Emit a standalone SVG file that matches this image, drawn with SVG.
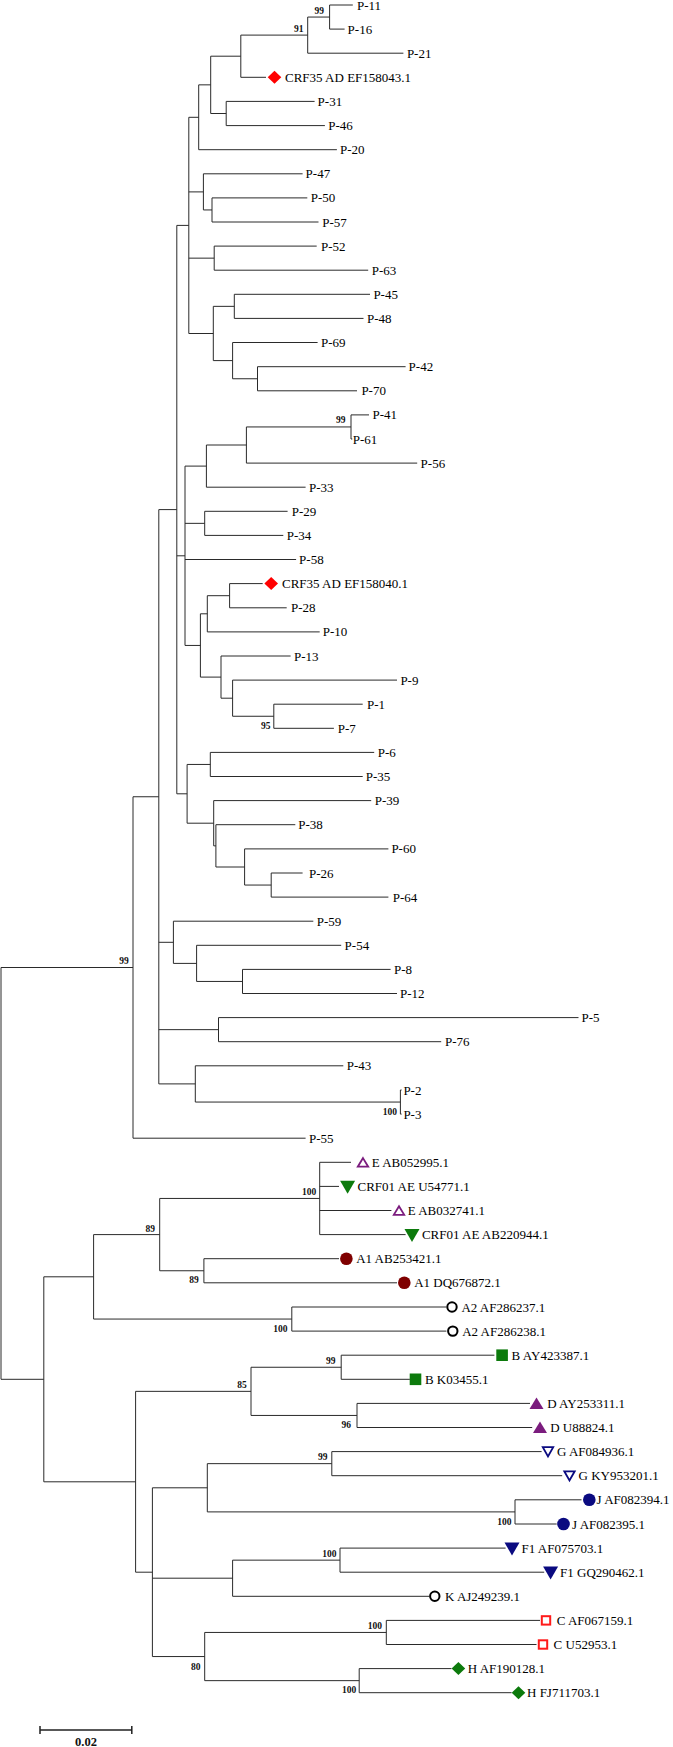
<svg xmlns="http://www.w3.org/2000/svg" xmlns:xlink="http://www.w3.org/1999/xlink" width="673" height="1747" viewBox="0 0 673 1747">
<style>
.lbl{font-family:"Liberation Serif","Times New Roman",serif;font-size:13px;fill:#000}
.bs{font-family:"Liberation Serif","Times New Roman",serif;font-size:9.5px;font-weight:bold;fill:#111;text-anchor:end}
.br{fill:none;stroke:#2a2a2a;stroke-width:1}
.red{fill:#ff0000}
.grn{fill:#0c7a0c}
.pur{fill:#7b1c7e}
.pur-o{fill:#fff;stroke:#7b1c7e;stroke-width:1.8}
.mar{fill:#7f0000}
.nav{fill:#0a0a80}
.nav-o{fill:#fff;stroke:#0a0a80;stroke-width:1.8}
.blk-o{fill:#fff;stroke:#000;stroke-width:2}
.red-o{fill:#fff;stroke:#ff1a1a;stroke-width:2}
</style>
<defs>
<path id="dia" d="M0,-6.5 L6.8,0 L0,6.5 L-6.8,0Z"/>
<path id="triU" d="M0,-6 L7,5.5 L-7,5.5Z"/>
<path id="triUo" d="M0,-4.2 L5.2,4.4 L-5.2,4.4Z"/>
<path id="triD" d="M-7.5,-5.7 L7.5,-5.7 L0,7.3Z"/>
<path id="triDo" d="M-5.2,-4.4 L5.2,-4.4 L0,4.8Z"/>
<circle id="cir" r="6.3"/>
<circle id="ciro" r="4.7"/>
<rect id="sq" x="-5.8" y="-5.8" width="11.6" height="11.6"/>
<rect id="sqo" x="-4.2" y="-4.2" width="8.4" height="8.4"/>
</defs>
<rect width="673" height="1747" fill="#fff"/>
<g id="connectors" class="br">
<path d="M329.6 5V29.1M329.6 5H352.8M329.6 29.1H344.6
M307.7 17.05V53.2M307.7 17.05H329.6M307.7 53.2H403.4
M240.8 35.1V77.3M240.8 35.1H307.7M240.8 77.3H266
M226.2 101.4V125.6M226.2 101.4H314.6M226.2 125.6H324.9
M210.7 56.2V113.5M210.7 56.2H240.8M210.7 113.5H226.2
M198.7 84.85V149.7M198.7 84.85H210.7M198.7 149.7H336.9
M212 197.9V222M212 197.9H307.3M212 222H318.5
M203.4 173.8V209.95M203.4 173.8H302.6M203.4 209.95H212
M214.2 246.1V270.2M214.2 246.1H316.7M214.2 270.2H368.2
M234.3 294.3V318.4M234.3 294.3H370M234.3 318.4H363.5
M257.5 366.7V390.8M257.5 366.7H405.6M257.5 390.8H357
M232.6 342.5V378.75M232.6 342.5H317.6M232.6 378.75H257.5
M213.3 306.35V360.6M213.3 306.35H234.3M213.3 360.6H232.6
M188.8 117.3V333.5M188.8 117.3H198.7M188.8 191.9H203.4M188.8 258.15H214.2M188.8 333.5H213.3
M351 414.9V439M351 414.9H369M351 439H352.3
M246.4 426.95V463.1M246.4 426.95H351M246.4 463.1H417.2
M206.4 445V487.2M206.4 445H246.4M206.4 487.2H305.6
M204.7 511.3V535.4M204.7 511.3H287.6M204.7 535.4H283.3
M229.6 583.6V607.8M229.6 583.6H262.7M229.6 607.8H286.7
M207.3 595.7V631.9M207.3 595.7H229.6M207.3 631.9H319.7
M273.8 704.2V728.3M273.8 704.2H362.7M273.8 728.3H333.9
M232.6 680.1V716.25M232.6 680.1H397M232.6 716.25H273.8
M221 656V698.2M221 656H290.6M221 698.2H232.6
M200.4 613.8V677.1M200.4 613.8H207.3M200.4 677.1H221
M185 466.1V645.45M185 466.1H206.4M185 523.35H204.7M185 559.5H296.1M185 645.45H200.4
M210.3 752.4V776.5M210.3 752.4H374.2M210.3 776.5H362.7
M271.2 873V897.1M271.2 873H302.6M271.2 897.1H388.4
M244.6 848.9V885.05M244.6 848.9H388.4M244.6 885.05H271.2
M215.9 824.7V867M215.9 824.7H295.3M215.9 867H244.6
M213.7 800.6V845.85M213.7 800.6H371.2M213.7 845.85H215.9
M187.1 764.45V823.2M187.1 764.45H210.3M187.1 823.2H213.7
M176.8 225.4V793.8M176.8 225.4H188.8M176.8 555.8H185M176.8 793.8H187.1
M242.5 969.4V993.5M242.5 969.4H390.6M242.5 993.5H397
M196.6 945.3V981.45M196.6 945.3H341.2M196.6 981.45H242.5
M173.4 921.2V963.4M173.4 921.2H313.3M173.4 963.4H196.6
M218.5 1017.6V1041.7M218.5 1017.6H578.5M218.5 1041.7H441.2
M400.4 1090V1114.1M400.4 1090H401.6M400.4 1114.1H401.6
M195.3 1065.8V1102.05M195.3 1065.8H343.3M195.3 1102.05H400.4
M158.8 509.6V1083.9M158.8 509.6H176.8M158.8 942.3H173.4M158.8 1029.65H218.5M158.8 1083.9H195.3
M133 796.75V1138.2M133 796.75H158.8M133 1138.2H305.6
M319.7 1162.3V1234.6M319.7 1162.3H351M319.7 1186.4H339M319.7 1210.5H391.4M319.7 1234.6H405.6
M203.9 1258.7V1282.8M203.9 1258.7H339M203.9 1282.8H397
M159.7 1198.45V1270.75M159.7 1198.45H319.7M159.7 1270.75H203.9
M291.8 1307V1331.1M291.8 1307H446.4M291.8 1331.1H446.4
M93.6 1234.6V1319.05M93.6 1234.6H159.7M93.6 1319.05H291.8
M341.2 1355.2V1379.3M341.2 1355.2H494.4M341.2 1379.3H409.9
M357 1403.4V1427.5M357 1403.4H530M357 1427.5H532.2
M251 1367.25V1415.45M251 1367.25H341.2M251 1415.45H357
M331.8 1451.6V1475.7M331.8 1451.6H541.6M331.8 1475.7H562.2
M515 1499.8V1524M515 1499.8H581.5M515 1524H556.7
M207.3 1463.65V1511.9M207.3 1463.65H331.8M207.3 1511.9H515
M340 1548.1V1572.2M340 1548.1H505.6M340 1572.2H544.2
M232.6 1560.15V1596.3M232.6 1560.15H340M232.6 1596.3H429.2
M386.3 1620.4V1644.5M386.3 1620.4H540M386.3 1644.5H536.5
M359.2 1668.6V1692.7M359.2 1668.6H451.5M359.2 1692.7H511.6
M204.7 1632.45V1680.65M204.7 1632.45H386.3M204.7 1680.65H359.2
M152.4 1487.8V1656.55M152.4 1487.8H207.3M152.4 1578.2H232.6M152.4 1656.55H204.7
M135.6 1391.35V1572.2M135.6 1391.35H251M135.6 1572.2H152.4
M43.8 1276.8V1481.8M43.8 1276.8H93.6M43.8 1481.8H135.6
M1 967.5V1379.3M1 967.5H133M1 1379.3H43.8"/>
</g>
<g id="bootstrap">
<text class="bs" x="324" y="13.5">99</text>
<text class="bs" x="303.4" y="31.6">91</text>
<text class="bs" x="345.5" y="423.4">99</text>
<text class="bs" x="270.4" y="728.7">95</text>
<text class="bs" x="397" y="1114.5">100</text>
<text class="bs" x="128.8" y="964">99</text>
<text class="bs" x="316.3" y="1195">100</text>
<text class="bs" x="198.7" y="1283.3">89</text>
<text class="bs" x="155" y="1231.6">89</text>
<text class="bs" x="287.6" y="1331.6">100</text>
<text class="bs" x="335.6" y="1364.3">99</text>
<text class="bs" x="351" y="1428.3">96</text>
<text class="bs" x="246.8" y="1388.3">85</text>
<text class="bs" x="327.5" y="1460">99</text>
<text class="bs" x="511.6" y="1525">100</text>
<text class="bs" x="336.5" y="1556.6">100</text>
<text class="bs" x="382" y="1629.3">100</text>
<text class="bs" x="356.2" y="1693.3">100</text>
<text class="bs" x="200.4" y="1670">80</text>
</g>
<g id="leaves" class="lbl">
<g id="P-11"><text x="357" y="9.5">P-11</text></g>
<g id="P-16"><text x="347.6" y="33.6">P-16</text></g>
<g id="P-21"><text x="406.9" y="57.7">P-21</text></g>
<g id="CRF35-EF158043"><use xlink:href="#dia" class="red" x="274.5" y="77.3"/><text x="285" y="81.8">CRF35 AD EF158043.1</text></g>
<g id="P-31"><text x="317.6" y="105.9">P-31</text></g>
<g id="P-46"><text x="328.3" y="130.1">P-46</text></g>
<g id="P-20"><text x="340" y="154.2">P-20</text></g>
<g id="P-47"><text x="305.6" y="178.3">P-47</text></g>
<g id="P-50"><text x="310.7" y="202.4">P-50</text></g>
<g id="P-57"><text x="322.3" y="226.5">P-57</text></g>
<g id="P-52"><text x="321" y="250.6">P-52</text></g>
<g id="P-63"><text x="371.7" y="274.7">P-63</text></g>
<g id="P-45"><text x="373.4" y="298.8">P-45</text></g>
<g id="P-48"><text x="367" y="322.9">P-48</text></g>
<g id="P-69"><text x="321" y="347">P-69</text></g>
<g id="P-42"><text x="408.6" y="371.2">P-42</text></g>
<g id="P-70"><text x="361.4" y="395.3">P-70</text></g>
<g id="P-41"><text x="372.5" y="419.4">P-41</text></g>
<g id="P-61"><text x="352.8" y="443.5">P-61</text></g>
<g id="P-56"><text x="420.6" y="467.6">P-56</text></g>
<g id="P-33"><text x="309" y="491.7">P-33</text></g>
<g id="P-29"><text x="291.8" y="515.8">P-29</text></g>
<g id="P-34"><text x="286.7" y="539.9">P-34</text></g>
<g id="P-58"><text x="299.1" y="564">P-58</text></g>
<g id="CRF35-EF158040"><use xlink:href="#dia" class="red" x="271.2" y="583.6"/><text x="282" y="588.1">CRF35 AD EF158040.1</text></g>
<g id="P-28"><text x="291" y="612.3">P-28</text></g>
<g id="P-10"><text x="322.7" y="636.4">P-10</text></g>
<g id="P-13"><text x="294" y="660.5">P-13</text></g>
<g id="P-9"><text x="400.4" y="684.6">P-9</text></g>
<g id="P-1"><text x="367" y="708.7">P-1</text></g>
<g id="P-7"><text x="337.8" y="732.8">P-7</text></g>
<g id="P-6"><text x="377.7" y="756.9">P-6</text></g>
<g id="P-35"><text x="365.7" y="781">P-35</text></g>
<g id="P-39"><text x="374.7" y="805.1">P-39</text></g>
<g id="P-38"><text x="298.3" y="829.2">P-38</text></g>
<g id="P-60"><text x="391.4" y="853.4">P-60</text></g>
<g id="P-26"><text x="309" y="877.5">P-26</text></g>
<g id="P-64"><text x="392.7" y="901.6">P-64</text></g>
<g id="P-59"><text x="316.7" y="925.7">P-59</text></g>
<g id="P-54"><text x="344.6" y="949.8">P-54</text></g>
<g id="P-8"><text x="394" y="973.9">P-8</text></g>
<g id="P-12"><text x="400" y="998">P-12</text></g>
<g id="P-5"><text x="581.5" y="1022.1">P-5</text></g>
<g id="P-76"><text x="445" y="1046.2">P-76</text></g>
<g id="P-43"><text x="346.8" y="1070.3">P-43</text></g>
<g id="P-2"><text x="403.4" y="1094.5">P-2</text></g>
<g id="P-3"><text x="403.4" y="1118.6">P-3</text></g>
<g id="P-55"><text x="309" y="1142.7">P-55</text></g>
<g id="E-AB052995"><use xlink:href="#triUo" class="pur-o" x="363" y="1162.3"/><text x="371.7" y="1166.8">E AB052995.1</text></g>
<g id="CRF01-U54771"><use xlink:href="#triD" class="grn" x="347.6" y="1186.4"/><text x="357.5" y="1190.9">CRF01 AE U54771.1</text></g>
<g id="E-AB032741"><use xlink:href="#triUo" class="pur-o" x="399" y="1210.5"/><text x="407.7" y="1215">E AB032741.1</text></g>
<g id="CRF01-AB220944"><use xlink:href="#triD" class="grn" x="412" y="1234.6"/><text x="421.9" y="1239.1">CRF01 AE AB220944.1</text></g>
<g id="A1-AB253421"><use xlink:href="#cir" class="mar" x="346.4" y="1258.7"/><text x="356.2" y="1263.2">A1 AB253421.1</text></g>
<g id="A1-DQ676872"><use xlink:href="#cir" class="mar" x="404.3" y="1282.8"/><text x="414.2" y="1287.3">A1 DQ676872.1</text></g>
<g id="A2-AF286237"><use xlink:href="#ciro" class="blk-o" x="452" y="1307"/><text x="461.4" y="1311.5">A2 AF286237.1</text></g>
<g id="A2-AF286238"><use xlink:href="#ciro" class="blk-o" x="452.8" y="1331.1"/><text x="462.2" y="1335.6">A2 AF286238.1</text></g>
<g id="B-AY423387"><use xlink:href="#sq" class="grn" x="502.1" y="1355.2"/><text x="511.6" y="1359.7">B AY423387.1</text></g>
<g id="B-K03455"><use xlink:href="#sq" class="grn" x="415.5" y="1379.3"/><text x="424.9" y="1383.8">B K03455.1</text></g>
<g id="D-AY253311"><use xlink:href="#triU" class="pur" x="536.5" y="1403.4"/><text x="547.2" y="1407.9">D AY253311.1</text></g>
<g id="D-U88824"><use xlink:href="#triU" class="pur" x="540" y="1427.5"/><text x="550.2" y="1432">D U88824.1</text></g>
<g id="G-AF084936"><use xlink:href="#triDo" class="nav-o" x="548" y="1451.6"/><text x="557" y="1456.1">G AF084936.1</text></g>
<g id="G-KY953201"><use xlink:href="#triDo" class="nav-o" x="569.5" y="1475.7"/><text x="578.5" y="1480.2">G KY953201.1</text></g>
<g id="J-AF082394"><use xlink:href="#cir" class="nav" x="589.3" y="1499.8"/><text x="596.6" y="1504.3">J AF082394.1</text></g>
<g id="J-AF082395"><use xlink:href="#cir" class="nav" x="563.5" y="1524"/><text x="572.1" y="1528.5">J AF082395.1</text></g>
<g id="F1-AF075703"><use xlink:href="#triD" class="nav" x="512" y="1548.1"/><text x="521.5" y="1552.6">F1 AF075703.1</text></g>
<g id="F1-GQ290462"><use xlink:href="#triD" class="nav" x="550.6" y="1572.2"/><text x="560.1" y="1576.7">F1 GQ290462.1</text></g>
<g id="K-AJ249239"><use xlink:href="#ciro" class="blk-o" x="434.8" y="1596.3"/><text x="445" y="1600.8">K AJ249239.1</text></g>
<g id="C-AF067159"><use xlink:href="#sqo" class="red-o" x="546" y="1620.4"/><text x="556.7" y="1624.9">C AF067159.1</text></g>
<g id="C-U52953"><use xlink:href="#sqo" class="red-o" x="543" y="1644.5"/><text x="553.6" y="1649">C U52953.1</text></g>
<g id="H-AF190128"><use xlink:href="#dia" class="grn" x="458.4" y="1668.6"/><text x="467.8" y="1673.1">H AF190128.1</text></g>
<g id="H-FJ711703"><use xlink:href="#dia" class="grn" x="518.5" y="1692.7"/><text x="527" y="1697.2">H FJ711703.1</text></g>
</g>
<g id="scalebar">
<path d="M40 1730H131.8M40 1726V1734M131.8 1726V1734" fill="none" stroke="#222" stroke-width="1.5"/>
<text x="86" y="1745.5" text-anchor="middle" font-family="Liberation Serif, Times New Roman, serif" font-size="12.5" font-weight="bold" fill="#111">0.02</text>
</g>
</svg>
